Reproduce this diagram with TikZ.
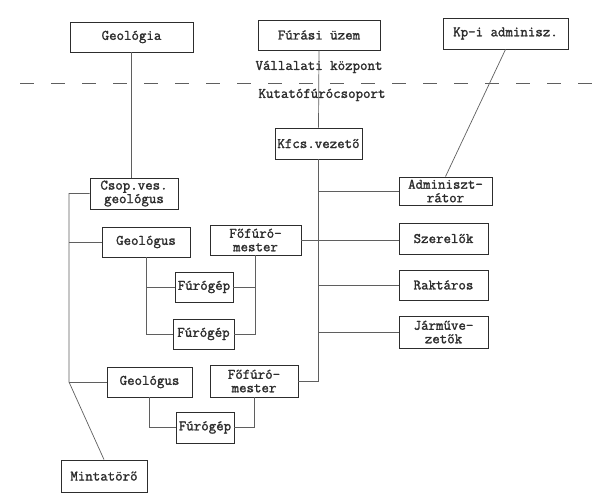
\documentclass[tikz,border=0pt]{standalone}
\usepackage{fontspec}
\setmonofont[AutoFakeBold=1.6]{Latin Modern Mono}
\usepackage{xcolor}
\usepackage{tikz}
\usetikzlibrary{positioning,calc}
\definecolor{ink}{RGB}{45,45,45}
\definecolor{rule}{RGB}{95,95,95}
\tikzset{
    box/.style={rectangle,draw=ink,line width=0.9pt,inner sep=0pt,align=center,
        font=\ttfamily\bfseries\fontsize{14.5}{13.5}\selectfont,text=ink},
    lbl/.style={inner sep=0pt,font=\ttfamily\bfseries\fontsize{14.5}{13.5}\selectfont,text=ink},
    link/.style={draw=rule,line width=0.7pt},
}

\begin{document}
\begin{tikzpicture}[x=1pt,y=-1pt]
\useasboundingbox[fill=white] (0,0) rectangle (596,500);
% top level
\node[box,minimum width=123pt,minimum height=30pt] (geologia) at (131.5,37) {Geológia};
\node[box,minimum width=122pt,minimum height=30pt] (furasi) at (319,35) {Fúrási üzem};
\node[box,minimum width=125pt,minimum height=31pt] (kp) at (505.5,33.5) {Kp-i adminisz.};
\node[lbl] (vall) at (319,67) {Vállalati központ};
\node[lbl] (kut) at (322,95) {Kutatófúrócsoport};
\draw[rule,line width=0.9pt,dash pattern=on 14pt off 17pt] (20,83) -- (596,83);
% drilling group
\node[box,minimum width=87pt,minimum height=31pt] (kfcs) at (318.5,143.5) {Kfcs.vezető};
\node[box,minimum width=88pt,minimum height=31pt] (csop) at (134,193.5) {Csop.ves.\\geológus};
\node[box,minimum width=88pt,minimum height=30pt] (geo1) at (146,242) {Geológus};
\node[box,minimum width=91pt,minimum height=30pt] (ff1) at (255.5,240) {Főfúró-\\mester};
\node[box,minimum width=58pt,minimum height=30pt] (fg1) at (204,287) {Fúrógép};
\node[box,minimum width=61pt,minimum height=30pt] (fg2) at (203.5,334) {Fúrógép};
\node[box,minimum width=85pt,minimum height=30pt] (geo2) at (149.5,382) {Geológus};
\node[box,minimum width=88pt,minimum height=32pt] (ff2) at (254,381) {Főfúró-\\mester};
\node[box,minimum width=58pt,minimum height=31pt] (fg3) at (205,427.5) {Fúrógép};
\node[box,minimum width=86pt,minimum height=32pt] (minta) at (104,476) {Mintatörő};
\node[box,minimum width=93pt,minimum height=28pt] (admin) at (445.5,191) {Adminiszt-\\rátor};
\node[box,minimum width=89pt,minimum height=31pt] (szer) at (443.5,238.5) {Szerelők};
\node[box,minimum width=89pt,minimum height=30pt] (rakt) at (443.5,285) {Raktáros};
\node[box,minimum width=89pt,minimum height=32pt] (jarmu) at (443.5,332) {Járműve-\\zetők};
\coordinate (lbus) at (69,382);

\draw[link] (geologia.south) -- (geologia.south |- csop.north);
\draw[link] (furasi.south) -- (kfcs.north);
\draw[link] (kp.south) -- (admin.north);
% main line
\draw[link] (kfcs.south) |- (ff2.east);
\draw[link] (admin.west) -- (admin.west -| kfcs.south);
\draw[link] (ff1.east) -- (ff1.east -| szer.west);
\draw[link] (rakt.west) -- (rakt.west -| kfcs.south);
\draw[link] (jarmu.west) -- (jarmu.west -| kfcs.south);
% geologists
\draw[link] (csop.west) -| (lbus) -- (minta.north);
\draw[link] (geo1.west) -- (geo1.west -| lbus);
\draw[link] (geo2.west) -- (lbus);
\draw[link] (geo1.south) |- (fg2.west);
\draw[link] (geo1.south |- fg1.west) -- (fg1.west);
\draw[link] (ff1.south) |- (fg2.east);
\draw[link] (fg1.east) -- (fg1.east -| ff1.south);
\draw[link] (geo2.south) |- (fg3.west);
\draw[link] (ff2.south) |- (fg3.east);
\end{tikzpicture}
\end{document}
